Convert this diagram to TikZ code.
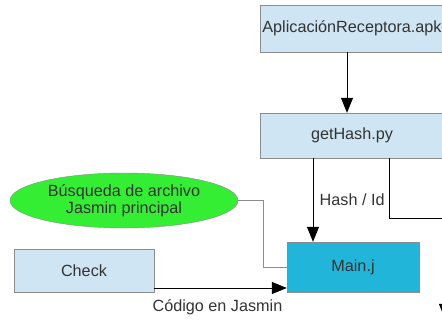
\documentclass[tikz,border=0pt]{standalone}
\usepackage{fontspec}
\setmainfont{Liberation Sans}
\usetikzlibrary{arrows.meta,shapes.geometric}

\definecolor{boxblue}{HTML}{CFE5F3}
\definecolor{maincyan}{HTML}{22B5DA}
\definecolor{searchgreen}{HTML}{33EE33}
\definecolor{txtgray}{HTML}{333333}
\definecolor{edgegray}{HTML}{8C8C8C}

\tikzset{
  filebox/.style={draw=edgegray, fill=boxblue, rectangle, text=txtgray,
    font=\fontsize{16.2}{18}\selectfont, inner sep=0pt},
  arr/.style={-{Triangle[length=15pt,width=12pt]}, line width=0.8pt},
}

\begin{document}
\begin{tikzpicture}[x=1pt, y=-1pt]
          \useasboundingbox (0,0) rectangle (442,320);

          \node (apk) at (352, 28.5) [filebox, minimum width=184pt, minimum height=47pt] {AplicaciónReceptora.apk};
          \node (gethash) at (352, 135.5) [filebox, minimum width=184pt, minimum height=45pt] {getHash.py};
          \node (main) at (353, 267) [filebox, fill=maincyan, minimum width=132pt, minimum height=50pt] {Main.j};
          \node (check) at (84, 270.5) [filebox, minimum width=140pt, minimum height=43pt] {Check};
          \node (busq) at (124, 200.5) [ellipse, draw=edgegray, fill=searchgreen, text=txtgray,
            minimum width=228pt, minimum height=55pt, inner sep=0pt, align=center,
            font=\fontsize{16.2}{17.5}\selectfont] {Búsqueda de archivo\\Jasmin principal};

          \draw[arr] ([xshift=-5pt]apk.south) -- ([xshift=-5pt]gethash.north);
          \draw[arr] ([xshift=-39pt]gethash.south) -- ([xshift=-40pt]main.north)
            node [midway, right=3pt, text=txtgray, font=\fontsize{16.2}{18}\selectfont] {Hash / Id};

          \coordinate (bend) at (445, 218.5);
          \coordinate (below) at (445, 319);
          \draw[arr] ([xshift=37pt]gethash.south) |- (bend) -- (below);

          \draw[edgegray, line width=0.8pt] (busq.east) -- ++(25,0) |- (main.west);
          \draw[arr] ([yshift=-17.5pt]check.east) -- ([yshift=-21pt]main.west)
            node [midway, below=8pt, xshift=-3pt, text=txtgray, font=\fontsize{16.2}{18}\selectfont] {Código en Jasmin};
        \end{tikzpicture}
\end{document}
